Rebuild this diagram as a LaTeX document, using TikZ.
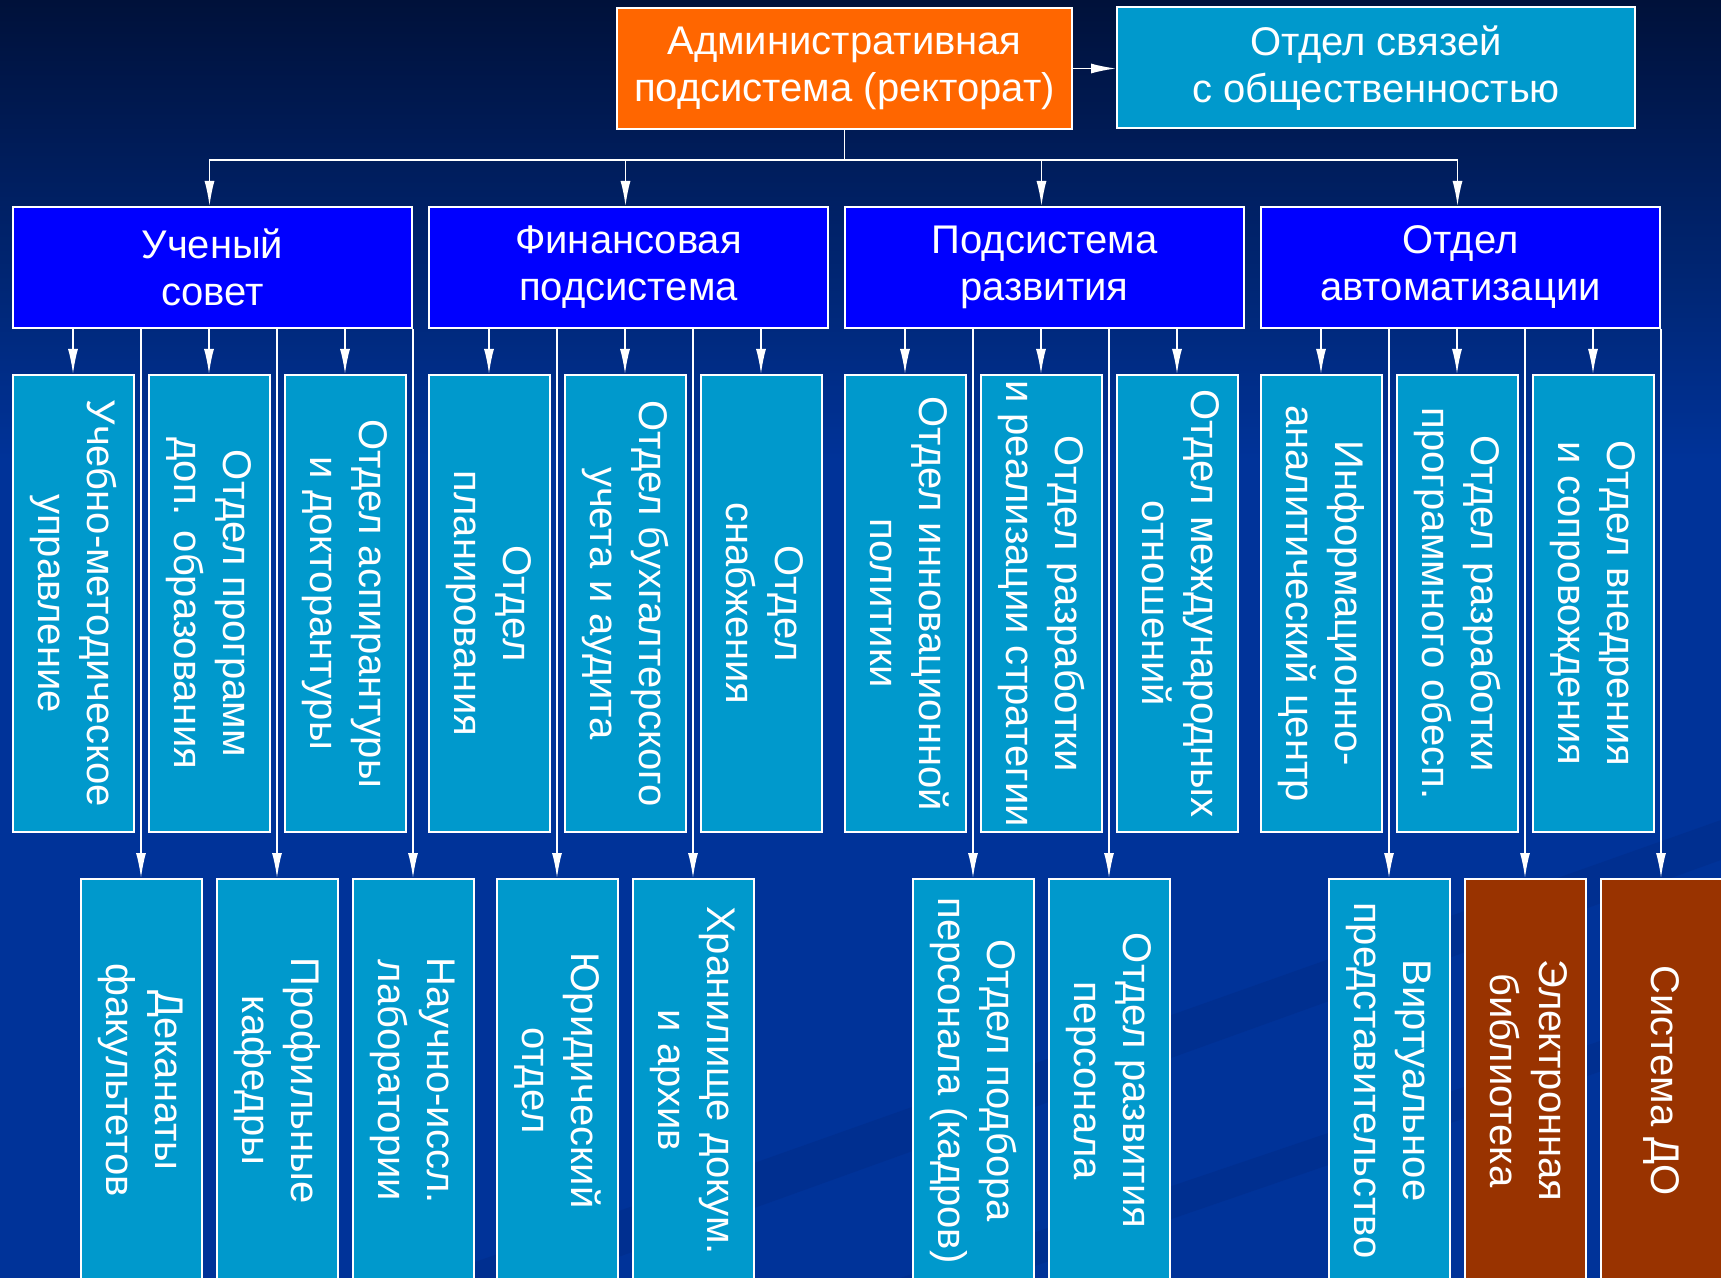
\documentclass[tikz,border=0pt]{standalone}
\usepackage{fontspec}
\setmainfont{Liberation Sans}
\usepackage{graphicx}
\usetikzlibrary{arrows.meta}

\definecolor{bgdark}{RGB}{0,17,58}
\definecolor{bgblue}{RGB}{0,51,153}
\definecolor{bgband}{RGB}{0,40,130}
\definecolor{rector}{RGB}{255,102,0}
\definecolor{headblue}{RGB}{0,0,255}
\definecolor{deptblue}{RGB}{0,153,204}
\definecolor{brick}{RGB}{153,51,0}

% rotated text for the tall boxes
\newcommand{\vtxt}[1]{\rotatebox{-90}{\begin{tabular}{@{}c@{}}#1\end{tabular}}}

\tikzset{
    box/.style={draw=white, line width=1pt, inner sep=0pt, text=white, align=center,
        font=\fontsize{20}{23.5}\selectfont},
    head/.style={box, fill=headblue, minimum width=199.5pt, minimum height=60.5pt},
    dept/.style={box, fill=deptblue, minimum width=60.5pt, minimum height=228.5pt,
        font=\fontsize{20}{24.5}\selectfont},
    sub/.style={dept, minimum height=201.5pt},
    line/.style={draw=white, line width=0.8pt},
    arr/.style={line, -{Latex[length=12.5pt,width=5pt]}},
}

\begin{document}
\begin{tikzpicture}[x=0.5pt,y=-0.5pt]
    \useasboundingbox (0,0) rectangle (1721,1278);
    % background
    \shade[top color=bgdark, bottom color=bgblue] (0,0) rectangle (1721,460);
    \fill[bgblue] (0,459) rectangle (1721,1278);
    \fill[bgband, opacity=0.35] (430,1278) -- (1721,820) -- (1721,860) -- (560,1278) -- cycle;
    \fill[bgband, opacity=0.35] (900,1278) -- (1721,1000) -- (1721,1030) -- (1000,1278) -- cycle;

    % top
    \node[box, fill=rector, minimum width=227.5pt, minimum height=60.5pt] (rect) at (844.5,68.5)
        {Административная\\подсистема (ректорат)};
    \node[box, fill=deptblue, minimum width=259pt, minimum height=60.5pt] (pr) at (1376,68)
        {Отдел связей\\с общественностью};
    \draw[arr] (rect.east) -- (rect.east -| pr.west);

    \node[head] (sovet) at (212.5,267.5) {Ученый\\совет};
    \node[head] (fin) at (628.5,267.5) {Финансовая\\подсистема};
    \node[head] (razv) at (1044.5,267.5) {Подсистема\\развития};
    \node[head] (avt) at (1460.5,267.5) {Отдел\\автоматизации};

    \draw[line] (rect.south) -- ++(0,30) coordinate (bus);
    \foreach \n in {sovet,fin,razv,avt}
        \draw[arr] (bus) -| ([xshift=-1.5pt]\n.north);

    % third level
    \foreach \k/\t in {0/{Учебно-методическое\\управление},1/{Отдел программ\\доп. образования},2/{Отдел аспирантуры\\и докторантуры}}{
        \node[dept] (sovet\k) at (73+136*\k,603.5) {\vtxt{\t}};
        \draw[arr] (sovet.south -| sovet\k.north) -- (sovet\k.north);
    }
    \foreach \k/\t in {0/{Отдел\\планирования},1/{Отдел бухгалтерского\\учета и аудита},2/{Отдел\\снабжения}}{
        \node[dept] (fin\k) at (489+136*\k,603.5) {\vtxt{\t}};
        \draw[arr] (fin.south -| fin\k.north) -- (fin\k.north);
    }
    \foreach \k/\t in {0/{Отдел инновационной\\политики},1/{Отдел разработки\\и реализации стратегии},2/{Отдел международных\\отношений}}{
        \node[dept] (razv\k) at (905+136*\k,603.5) {\vtxt{\t}};
        \draw[arr] (razv.south -| razv\k.north) -- (razv\k.north);
    }
    \foreach \k/\t in {0/{Информационно-\\аналитический центр},1/{Отдел разработки\\программного обесп.},2/{Отдел внедрения\\и сопровождения}}{
        \node[dept] (avt\k) at (1321+136*\k,603.5) {\vtxt{\t}};
        \draw[arr] (avt.south -| avt\k.north) -- (avt\k.north);
    }

    % fourth level
    \foreach \k/\t in {0/{Деканаты\\факультетов},1/{Профильные\\кафедры},2/{Научно-иссл.\\лаборатории}}{
        \node[sub] (dek\k) at (141+136*\k,1080.5) {\vtxt{\t}};
        \draw[arr] (sovet.south -| dek\k.north) -- (dek\k.north);
    }
    \foreach \k/\t in {0/{Юридический\\отдел},1/{Хранилище докум.\\и архив}}{
        \node[sub] (jur\k) at (557+136*\k,1080.5) {\vtxt{\t}};
        \draw[arr] (fin.south -| jur\k.north) -- (jur\k.north);
    }
    \foreach \k/\t in {0/{Отдел подбора\\персонала (кадров)},1/{Отдел развития\\персонала}}{
        \node[sub] (kadr\k) at (973+136*\k,1080.5) {\vtxt{\t}};
        \draw[arr] (razv.south -| kadr\k.north) -- (kadr\k.north);
    }
    \foreach \k/\c/\t in {0/deptblue/{Виртуальное\\представительство},1/brick/{Электронная\\библиотека},2/brick/{Система ДО}}{
        \node[sub, fill=\c] (do\k) at (1389+136*\k,1080.5) {\vtxt{\t}};
        \draw[arr] (avt.south -| do\k.north) -- (do\k.north);
    }
\end{tikzpicture}
\end{document}
